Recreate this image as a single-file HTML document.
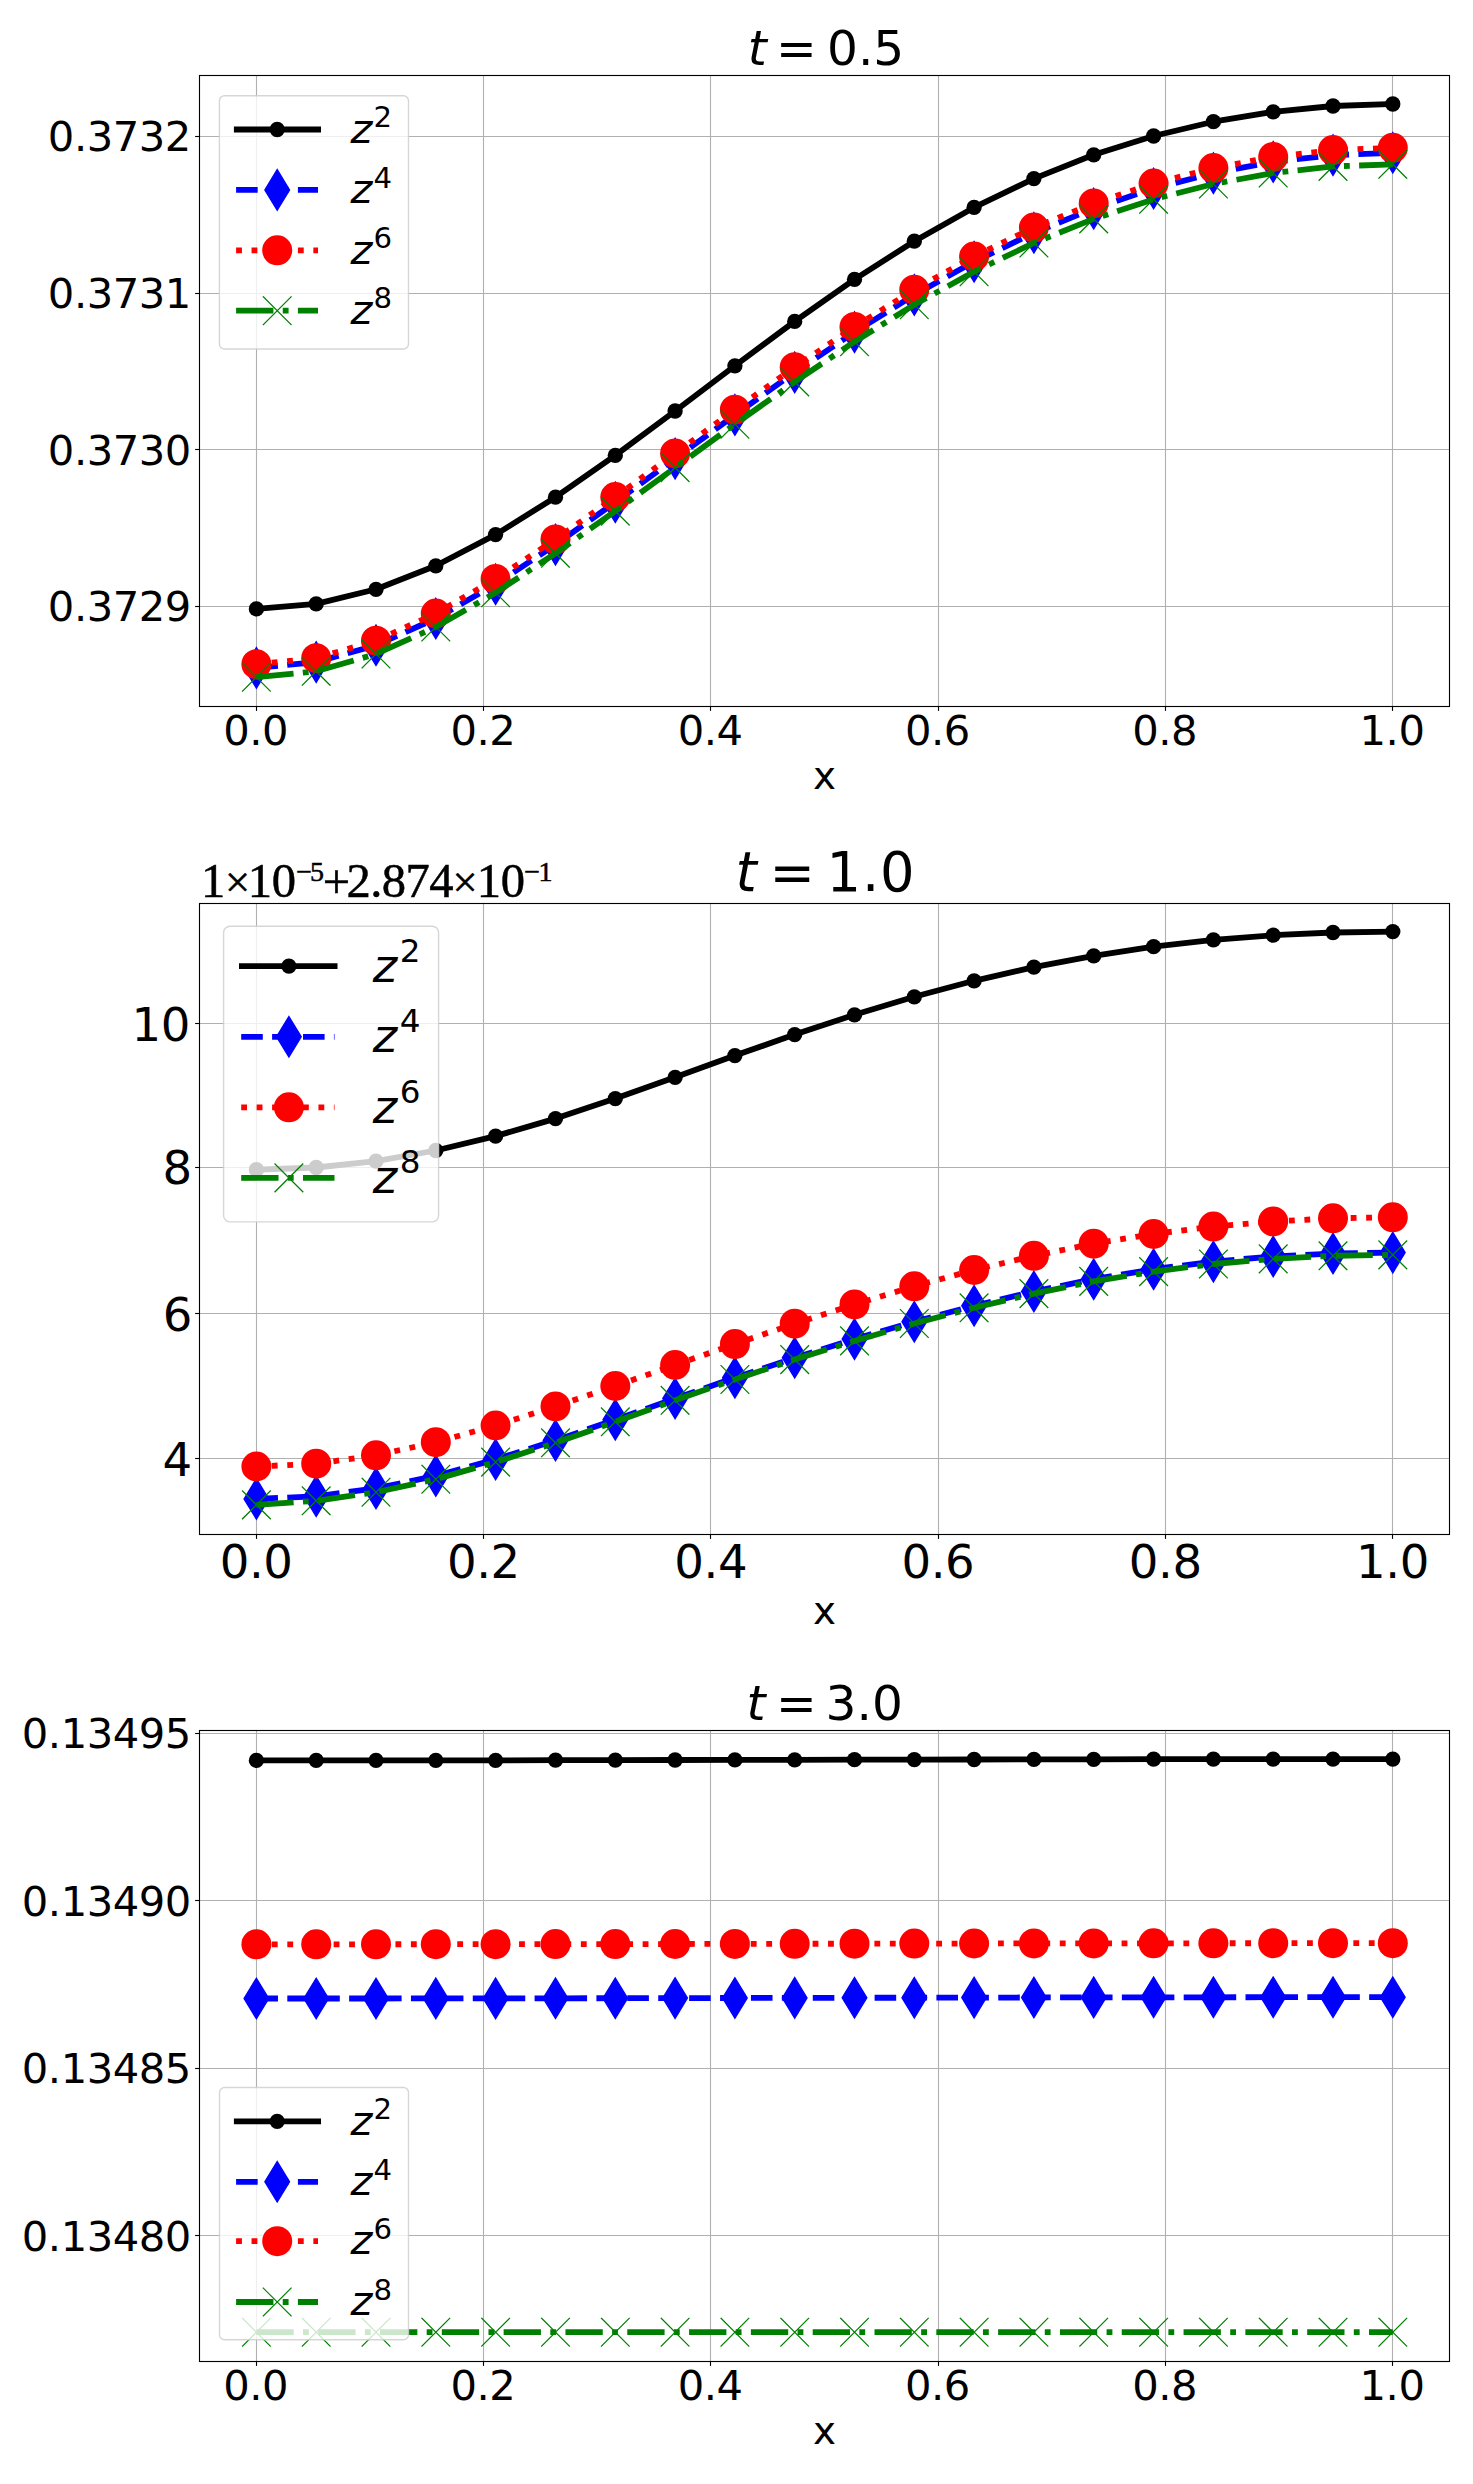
<!DOCTYPE html>
<html><head><meta charset="utf-8"><title>plots</title>
<style>html,body{margin:0;padding:0;background:#fff}svg{display:block}text{white-space:pre}</style>
</head><body>
<svg width="1473" height="2484" viewBox="0 0 1473 2484">
<g stroke="#b0b0b0" stroke-width="1.11">
<line x1="256.5" y1="75.5" x2="256.5" y2="706.5"/>
<line x1="483.5" y1="75.5" x2="483.5" y2="706.5"/>
<line x1="710.5" y1="75.5" x2="710.5" y2="706.5"/>
<line x1="938.5" y1="75.5" x2="938.5" y2="706.5"/>
<line x1="1165.5" y1="75.5" x2="1165.5" y2="706.5"/>
<line x1="1392.5" y1="75.5" x2="1392.5" y2="706.5"/>
<line x1="199.5" y1="136.5" x2="1449.5" y2="136.5"/>
<line x1="199.5" y1="293.5" x2="1449.5" y2="293.5"/>
<line x1="199.5" y1="449.5" x2="1449.5" y2="449.5"/>
<line x1="199.5" y1="606.5" x2="1449.5" y2="606.5"/>
</g>
<clipPath id="c1"><rect x="199.5" y="75.5" width="1250.0" height="631.0"/></clipPath>
<g clip-path="url(#c1)">
<polyline points="256.4,608.9 316.2,603.9 376.0,589.3 435.8,565.8 495.6,534.6 555.5,497.2 615.3,455.4 675.1,411.0 734.9,365.8 794.7,321.4 854.5,279.4 914.3,241.2 974.1,207.4 1033.9,178.6 1093.7,154.8 1153.6,136.0 1213.4,121.7 1273.2,111.8 1333.0,106.0 1392.8,104.0" fill="none" stroke="#000" stroke-width="5.8" stroke-linejoin="round" stroke-linecap="square"/>
<circle cx="256.4" cy="608.9" r="7.65" fill="#000"/>
<circle cx="316.2" cy="603.9" r="7.65" fill="#000"/>
<circle cx="376.0" cy="589.3" r="7.65" fill="#000"/>
<circle cx="435.8" cy="565.8" r="7.65" fill="#000"/>
<circle cx="495.6" cy="534.6" r="7.65" fill="#000"/>
<circle cx="555.5" cy="497.2" r="7.65" fill="#000"/>
<circle cx="615.3" cy="455.4" r="7.65" fill="#000"/>
<circle cx="675.1" cy="411.0" r="7.65" fill="#000"/>
<circle cx="734.9" cy="365.8" r="7.65" fill="#000"/>
<circle cx="794.7" cy="321.4" r="7.65" fill="#000"/>
<circle cx="854.5" cy="279.4" r="7.65" fill="#000"/>
<circle cx="914.3" cy="241.2" r="7.65" fill="#000"/>
<circle cx="974.1" cy="207.4" r="7.65" fill="#000"/>
<circle cx="1033.9" cy="178.6" r="7.65" fill="#000"/>
<circle cx="1093.7" cy="154.8" r="7.65" fill="#000"/>
<circle cx="1153.6" cy="136.0" r="7.65" fill="#000"/>
<circle cx="1213.4" cy="121.7" r="7.65" fill="#000"/>
<circle cx="1273.2" cy="111.8" r="7.65" fill="#000"/>
<circle cx="1333.0" cy="106.0" r="7.65" fill="#000"/>
<circle cx="1392.8" cy="104.0" r="7.65" fill="#000"/>
<polyline points="256.4,667.9 316.2,662.1 376.0,645.3 435.8,618.5 495.6,584.2 555.5,544.6 615.3,502.2 675.1,458.6 734.9,414.9 794.7,372.4 854.5,332.1 914.3,294.9 974.1,261.7 1033.9,232.8 1093.7,208.6 1153.6,188.5 1213.4,173.1 1273.2,161.9 1333.0,155.1 1392.8,152.8" fill="none" stroke="#0000ff" stroke-width="5.8" stroke-dasharray="21.58 9.33"/>
<path d="M256.4 647.7L268.7 667.9L256.4 688.1L244.1 667.9Z" fill="#0000ff" stroke="#0000ff" stroke-width="1.4" stroke-linejoin="miter"/>
<path d="M316.2 641.9L328.5 662.1L316.2 682.3L303.9 662.1Z" fill="#0000ff" stroke="#0000ff" stroke-width="1.4" stroke-linejoin="miter"/>
<path d="M376.0 625.1L388.3 645.3L376.0 665.5L363.7 645.3Z" fill="#0000ff" stroke="#0000ff" stroke-width="1.4" stroke-linejoin="miter"/>
<path d="M435.8 598.3L448.1 618.5L435.8 638.7L423.5 618.5Z" fill="#0000ff" stroke="#0000ff" stroke-width="1.4" stroke-linejoin="miter"/>
<path d="M495.6 564.0L507.9 584.2L495.6 604.4L483.3 584.2Z" fill="#0000ff" stroke="#0000ff" stroke-width="1.4" stroke-linejoin="miter"/>
<path d="M555.5 524.4L567.8 544.6L555.5 564.8L543.2 544.6Z" fill="#0000ff" stroke="#0000ff" stroke-width="1.4" stroke-linejoin="miter"/>
<path d="M615.3 482.0L627.6 502.2L615.3 522.4L603.0 502.2Z" fill="#0000ff" stroke="#0000ff" stroke-width="1.4" stroke-linejoin="miter"/>
<path d="M675.1 438.4L687.4 458.6L675.1 478.8L662.8 458.6Z" fill="#0000ff" stroke="#0000ff" stroke-width="1.4" stroke-linejoin="miter"/>
<path d="M734.9 394.7L747.2 414.9L734.9 435.1L722.6 414.9Z" fill="#0000ff" stroke="#0000ff" stroke-width="1.4" stroke-linejoin="miter"/>
<path d="M794.7 352.2L807.0 372.4L794.7 392.6L782.4 372.4Z" fill="#0000ff" stroke="#0000ff" stroke-width="1.4" stroke-linejoin="miter"/>
<path d="M854.5 311.9L866.8 332.1L854.5 352.3L842.2 332.1Z" fill="#0000ff" stroke="#0000ff" stroke-width="1.4" stroke-linejoin="miter"/>
<path d="M914.3 274.7L926.6 294.9L914.3 315.1L902.0 294.9Z" fill="#0000ff" stroke="#0000ff" stroke-width="1.4" stroke-linejoin="miter"/>
<path d="M974.1 241.5L986.4 261.7L974.1 281.9L961.8 261.7Z" fill="#0000ff" stroke="#0000ff" stroke-width="1.4" stroke-linejoin="miter"/>
<path d="M1033.9 212.6L1046.2 232.8L1033.9 253.0L1021.6 232.8Z" fill="#0000ff" stroke="#0000ff" stroke-width="1.4" stroke-linejoin="miter"/>
<path d="M1093.7 188.4L1106.0 208.6L1093.7 228.8L1081.4 208.6Z" fill="#0000ff" stroke="#0000ff" stroke-width="1.4" stroke-linejoin="miter"/>
<path d="M1153.6 168.3L1165.9 188.5L1153.6 208.7L1141.3 188.5Z" fill="#0000ff" stroke="#0000ff" stroke-width="1.4" stroke-linejoin="miter"/>
<path d="M1213.4 152.9L1225.7 173.1L1213.4 193.3L1201.1 173.1Z" fill="#0000ff" stroke="#0000ff" stroke-width="1.4" stroke-linejoin="miter"/>
<path d="M1273.2 141.7L1285.5 161.9L1273.2 182.1L1260.9 161.9Z" fill="#0000ff" stroke="#0000ff" stroke-width="1.4" stroke-linejoin="miter"/>
<path d="M1333.0 134.9L1345.3 155.1L1333.0 175.3L1320.7 155.1Z" fill="#0000ff" stroke="#0000ff" stroke-width="1.4" stroke-linejoin="miter"/>
<path d="M1392.8 132.6L1405.1 152.8L1392.8 173.0L1380.5 152.8Z" fill="#0000ff" stroke="#0000ff" stroke-width="1.4" stroke-linejoin="miter"/>
<polyline points="256.4,664.2 316.2,658.2 376.0,640.7 435.8,613.5 495.6,578.9 555.5,539.4 615.3,497.0 675.1,453.4 734.9,409.7 794.7,367.2 854.5,326.9 914.3,289.7 974.1,256.5 1033.9,227.6 1093.7,203.4 1153.6,183.5 1213.4,168.1 1273.2,156.9 1333.0,150.1 1392.8,147.8" fill="none" stroke="#ff0000" stroke-width="5.8" stroke-dasharray="5.83 9.62"/>
<circle cx="256.4" cy="664.2" r="15.0" fill="#ff0000"/>
<circle cx="316.2" cy="658.2" r="15.0" fill="#ff0000"/>
<circle cx="376.0" cy="640.7" r="15.0" fill="#ff0000"/>
<circle cx="435.8" cy="613.5" r="15.0" fill="#ff0000"/>
<circle cx="495.6" cy="578.9" r="15.0" fill="#ff0000"/>
<circle cx="555.5" cy="539.4" r="15.0" fill="#ff0000"/>
<circle cx="615.3" cy="497.0" r="15.0" fill="#ff0000"/>
<circle cx="675.1" cy="453.4" r="15.0" fill="#ff0000"/>
<circle cx="734.9" cy="409.7" r="15.0" fill="#ff0000"/>
<circle cx="794.7" cy="367.2" r="15.0" fill="#ff0000"/>
<circle cx="854.5" cy="326.9" r="15.0" fill="#ff0000"/>
<circle cx="914.3" cy="289.7" r="15.0" fill="#ff0000"/>
<circle cx="974.1" cy="256.5" r="15.0" fill="#ff0000"/>
<circle cx="1033.9" cy="227.6" r="15.0" fill="#ff0000"/>
<circle cx="1093.7" cy="203.4" r="15.0" fill="#ff0000"/>
<circle cx="1153.6" cy="183.5" r="15.0" fill="#ff0000"/>
<circle cx="1213.4" cy="168.1" r="15.0" fill="#ff0000"/>
<circle cx="1273.2" cy="156.9" r="15.0" fill="#ff0000"/>
<circle cx="1333.0" cy="150.1" r="15.0" fill="#ff0000"/>
<circle cx="1392.8" cy="147.8" r="15.0" fill="#ff0000"/>
<polyline points="256.4,677.2 316.2,671.3 376.0,654.0 435.8,627.0 495.6,592.7 555.5,553.3 615.3,511.1 675.1,467.6 734.9,424.2 794.7,381.9 854.5,341.7 914.3,304.7 974.1,271.7 1033.9,243.0 1093.7,218.9 1153.6,199.3 1213.4,184.0 1273.2,173.0 1333.0,166.4 1392.8,164.3" fill="none" stroke="#008000" stroke-width="5.8" stroke-dasharray="37.32 9.33 5.83 9.33"/>
<path d="M242.5 663.3L270.3 691.1M242.5 691.1L270.3 663.3" stroke="#008000" stroke-width="1.25" fill="none" stroke-linecap="square"/>
<path d="M302.3 657.4L330.1 685.2M302.3 685.2L330.1 657.4" stroke="#008000" stroke-width="1.25" fill="none" stroke-linecap="square"/>
<path d="M362.1 640.1L389.9 667.9M362.1 667.9L389.9 640.1" stroke="#008000" stroke-width="1.25" fill="none" stroke-linecap="square"/>
<path d="M421.9 613.1L449.7 640.9M421.9 640.9L449.7 613.1" stroke="#008000" stroke-width="1.25" fill="none" stroke-linecap="square"/>
<path d="M481.7 578.8L509.5 606.6M481.7 606.6L509.5 578.8" stroke="#008000" stroke-width="1.25" fill="none" stroke-linecap="square"/>
<path d="M541.6 539.4L569.4 567.2M541.6 567.2L569.4 539.4" stroke="#008000" stroke-width="1.25" fill="none" stroke-linecap="square"/>
<path d="M601.4 497.2L629.2 525.0M601.4 525.0L629.2 497.2" stroke="#008000" stroke-width="1.25" fill="none" stroke-linecap="square"/>
<path d="M661.2 453.7L689.0 481.5M661.2 481.5L689.0 453.7" stroke="#008000" stroke-width="1.25" fill="none" stroke-linecap="square"/>
<path d="M721.0 410.3L748.8 438.1M721.0 438.1L748.8 410.3" stroke="#008000" stroke-width="1.25" fill="none" stroke-linecap="square"/>
<path d="M780.8 368.0L808.6 395.8M780.8 395.8L808.6 368.0" stroke="#008000" stroke-width="1.25" fill="none" stroke-linecap="square"/>
<path d="M840.6 327.8L868.4 355.6M840.6 355.6L868.4 327.8" stroke="#008000" stroke-width="1.25" fill="none" stroke-linecap="square"/>
<path d="M900.4 290.8L928.2 318.6M900.4 318.6L928.2 290.8" stroke="#008000" stroke-width="1.25" fill="none" stroke-linecap="square"/>
<path d="M960.2 257.8L988.0 285.6M960.2 285.6L988.0 257.8" stroke="#008000" stroke-width="1.25" fill="none" stroke-linecap="square"/>
<path d="M1020.0 229.1L1047.8 256.9M1020.0 256.9L1047.8 229.1" stroke="#008000" stroke-width="1.25" fill="none" stroke-linecap="square"/>
<path d="M1079.8 205.0L1107.6 232.8M1079.8 232.8L1107.6 205.0" stroke="#008000" stroke-width="1.25" fill="none" stroke-linecap="square"/>
<path d="M1139.7 185.4L1167.5 213.2M1139.7 213.2L1167.5 185.4" stroke="#008000" stroke-width="1.25" fill="none" stroke-linecap="square"/>
<path d="M1199.5 170.1L1227.3 197.9M1199.5 197.9L1227.3 170.1" stroke="#008000" stroke-width="1.25" fill="none" stroke-linecap="square"/>
<path d="M1259.3 159.1L1287.1 186.9M1259.3 186.9L1287.1 159.1" stroke="#008000" stroke-width="1.25" fill="none" stroke-linecap="square"/>
<path d="M1319.1 152.5L1346.9 180.3M1319.1 180.3L1346.9 152.5" stroke="#008000" stroke-width="1.25" fill="none" stroke-linecap="square"/>
<path d="M1378.9 150.4L1406.7 178.2M1378.9 178.2L1406.7 150.4" stroke="#008000" stroke-width="1.25" fill="none" stroke-linecap="square"/>
</g>
<rect x="199.5" y="75.5" width="1250.0" height="631.0" fill="none" stroke="#000" stroke-width="1.11"/>
<g stroke="#000" stroke-width="1.11">
<line x1="256.5" y1="706.5" x2="256.5" y2="710.9"/>
<line x1="483.5" y1="706.5" x2="483.5" y2="710.9"/>
<line x1="710.5" y1="706.5" x2="710.5" y2="710.9"/>
<line x1="938.5" y1="706.5" x2="938.5" y2="710.9"/>
<line x1="1165.5" y1="706.5" x2="1165.5" y2="710.9"/>
<line x1="1392.5" y1="706.5" x2="1392.5" y2="710.9"/>
<line x1="195.1" y1="136.5" x2="199.5" y2="136.5"/>
<line x1="195.1" y1="293.5" x2="199.5" y2="293.5"/>
<line x1="195.1" y1="449.5" x2="199.5" y2="449.5"/>
<line x1="195.1" y1="606.5" x2="199.5" y2="606.5"/>
</g>
<g style="font-family:'DejaVu Sans','Liberation Sans',sans-serif;font-size:41.67px;letter-spacing:-0.45px" fill="#000">
<text x="255.6" y="745.2" text-anchor="middle">0.0</text>
<text x="482.9" y="745.2" text-anchor="middle">0.2</text>
<text x="710.2" y="745.2" text-anchor="middle">0.4</text>
<text x="937.4" y="745.2" text-anchor="middle">0.6</text>
<text x="1164.7" y="745.2" text-anchor="middle">0.8</text>
<text x="1392.0" y="745.2" text-anchor="middle">1.0</text>
<text x="190.9" y="151.4" text-anchor="end">0.3732</text>
<text x="190.9" y="308.2" text-anchor="end">0.3731</text>
<text x="190.9" y="464.8" text-anchor="end">0.3730</text>
<text x="190.9" y="621.2" text-anchor="end">0.3729</text>
</g>
<text x="824.6" y="788.8" text-anchor="middle" style="font-family:'DejaVu Sans','Liberation Sans',sans-serif;font-size:38.9px">x</text>
<g style="font-family:'DejaVu Sans','Liberation Sans',sans-serif;font-size:48.6px">
<text x="747.7" y="64.8" font-style="italic">t</text>
<text x="776.1" y="64.8">=</text>
<text x="827.0" y="64.8" style="letter-spacing:0px">0.5</text>
</g>
<rect x="219.4" y="95.7" width="189.1" height="253.3" rx="5.0" fill="#fff" fill-opacity="0.8" stroke="#ccc" stroke-opacity="0.8" stroke-width="1.39"/>
<line x1="233.9" y1="129.5" x2="321.0" y2="129.5" stroke="#000" stroke-width="5.8"/>
<circle cx="277.2" cy="129.5" r="7.65" fill="#000"/>
<text x="350.5" y="142.7" style="font-family:'DejaVu Sans','Liberation Sans',sans-serif;font-size:41.67px"><tspan font-style="italic">z</tspan><tspan dx="1.2" dy="-15.5" font-size="29.17px">2</tspan></text>
<line x1="236.1" y1="189.9" x2="318.0" y2="189.9" stroke="#0000ff" stroke-width="5.8" stroke-dasharray="21.58 9.33"/>
<path d="M277.2 169.7L289.5 189.9L277.2 210.1L264.9 189.9Z" fill="#0000ff" stroke="#0000ff" stroke-width="1.4" stroke-linejoin="miter"/>
<text x="350.5" y="203.1" style="font-family:'DejaVu Sans','Liberation Sans',sans-serif;font-size:41.67px"><tspan font-style="italic">z</tspan><tspan dx="1.2" dy="-15.5" font-size="29.17px">4</tspan></text>
<line x1="236.1" y1="250.3" x2="318.0" y2="250.3" stroke="#ff0000" stroke-width="5.8" stroke-dasharray="5.83 9.62"/>
<circle cx="277.2" cy="250.3" r="15.0" fill="#ff0000"/>
<text x="350.5" y="263.5" style="font-family:'DejaVu Sans','Liberation Sans',sans-serif;font-size:41.67px"><tspan font-style="italic">z</tspan><tspan dx="1.2" dy="-15.5" font-size="29.17px">6</tspan></text>
<line x1="236.1" y1="310.7" x2="318.0" y2="310.7" stroke="#008000" stroke-width="5.8" stroke-dasharray="37.32 9.33 5.83 9.33"/>
<path d="M263.3 296.8L291.1 324.6M263.3 324.6L291.1 296.8" stroke="#008000" stroke-width="1.25" fill="none" stroke-linecap="square"/>
<text x="350.5" y="323.9" style="font-family:'DejaVu Sans','Liberation Sans',sans-serif;font-size:41.67px"><tspan font-style="italic">z</tspan><tspan dx="1.2" dy="-15.5" font-size="29.17px">8</tspan></text>
<g stroke="#b0b0b0" stroke-width="1.11">
<line x1="256.5" y1="903.5" x2="256.5" y2="1534.5"/>
<line x1="483.5" y1="903.5" x2="483.5" y2="1534.5"/>
<line x1="710.5" y1="903.5" x2="710.5" y2="1534.5"/>
<line x1="938.5" y1="903.5" x2="938.5" y2="1534.5"/>
<line x1="1165.5" y1="903.5" x2="1165.5" y2="1534.5"/>
<line x1="1392.5" y1="903.5" x2="1392.5" y2="1534.5"/>
<line x1="199.5" y1="1023.5" x2="1449.5" y2="1023.5"/>
<line x1="199.5" y1="1167.5" x2="1449.5" y2="1167.5"/>
<line x1="199.5" y1="1313.5" x2="1449.5" y2="1313.5"/>
<line x1="199.5" y1="1458.5" x2="1449.5" y2="1458.5"/>
</g>
<clipPath id="c2"><rect x="199.5" y="903.5" width="1250.0" height="631.0"/></clipPath>
<g clip-path="url(#c2)">
<polyline points="256.4,1169.7 316.2,1167.5 376.0,1161.1 435.8,1150.5 495.6,1136.1 555.5,1118.6 615.3,1098.6 675.1,1077.3 734.9,1055.6 794.7,1034.6 854.5,1014.8 914.3,996.8 974.1,980.8 1033.9,967.2 1093.7,955.8 1153.6,946.7 1213.4,939.9 1273.2,935.2 1333.0,932.5 1392.8,931.6" fill="none" stroke="#000" stroke-width="5.8" stroke-linejoin="round" stroke-linecap="square"/>
<circle cx="256.4" cy="1169.7" r="7.65" fill="#000"/>
<circle cx="316.2" cy="1167.5" r="7.65" fill="#000"/>
<circle cx="376.0" cy="1161.1" r="7.65" fill="#000"/>
<circle cx="435.8" cy="1150.5" r="7.65" fill="#000"/>
<circle cx="495.6" cy="1136.1" r="7.65" fill="#000"/>
<circle cx="555.5" cy="1118.6" r="7.65" fill="#000"/>
<circle cx="615.3" cy="1098.6" r="7.65" fill="#000"/>
<circle cx="675.1" cy="1077.3" r="7.65" fill="#000"/>
<circle cx="734.9" cy="1055.6" r="7.65" fill="#000"/>
<circle cx="794.7" cy="1034.6" r="7.65" fill="#000"/>
<circle cx="854.5" cy="1014.8" r="7.65" fill="#000"/>
<circle cx="914.3" cy="996.8" r="7.65" fill="#000"/>
<circle cx="974.1" cy="980.8" r="7.65" fill="#000"/>
<circle cx="1033.9" cy="967.2" r="7.65" fill="#000"/>
<circle cx="1093.7" cy="955.8" r="7.65" fill="#000"/>
<circle cx="1153.6" cy="946.7" r="7.65" fill="#000"/>
<circle cx="1213.4" cy="939.9" r="7.65" fill="#000"/>
<circle cx="1273.2" cy="935.2" r="7.65" fill="#000"/>
<circle cx="1333.0" cy="932.5" r="7.65" fill="#000"/>
<circle cx="1392.8" cy="931.6" r="7.65" fill="#000"/>
<polyline points="256.4,1498.9 316.2,1496.3 376.0,1488.4 435.8,1475.9 495.6,1459.5 555.5,1440.4 615.3,1419.7 675.1,1398.5 734.9,1377.7 794.7,1357.8 854.5,1339.1 914.3,1321.7 974.1,1305.8 1033.9,1291.5 1093.7,1279.2 1153.6,1269.2 1213.4,1261.6 1273.2,1256.5 1333.0,1253.5 1392.8,1252.6" fill="none" stroke="#0000ff" stroke-width="5.8" stroke-dasharray="21.58 9.33"/>
<path d="M256.4 1478.7L268.7 1498.9L256.4 1519.1L244.1 1498.9Z" fill="#0000ff" stroke="#0000ff" stroke-width="1.4" stroke-linejoin="miter"/>
<path d="M316.2 1476.1L328.5 1496.3L316.2 1516.5L303.9 1496.3Z" fill="#0000ff" stroke="#0000ff" stroke-width="1.4" stroke-linejoin="miter"/>
<path d="M376.0 1468.2L388.3 1488.4L376.0 1508.6L363.7 1488.4Z" fill="#0000ff" stroke="#0000ff" stroke-width="1.4" stroke-linejoin="miter"/>
<path d="M435.8 1455.7L448.1 1475.9L435.8 1496.1L423.5 1475.9Z" fill="#0000ff" stroke="#0000ff" stroke-width="1.4" stroke-linejoin="miter"/>
<path d="M495.6 1439.3L507.9 1459.5L495.6 1479.7L483.3 1459.5Z" fill="#0000ff" stroke="#0000ff" stroke-width="1.4" stroke-linejoin="miter"/>
<path d="M555.5 1420.2L567.8 1440.4L555.5 1460.6L543.2 1440.4Z" fill="#0000ff" stroke="#0000ff" stroke-width="1.4" stroke-linejoin="miter"/>
<path d="M615.3 1399.5L627.6 1419.7L615.3 1439.9L603.0 1419.7Z" fill="#0000ff" stroke="#0000ff" stroke-width="1.4" stroke-linejoin="miter"/>
<path d="M675.1 1378.3L687.4 1398.5L675.1 1418.7L662.8 1398.5Z" fill="#0000ff" stroke="#0000ff" stroke-width="1.4" stroke-linejoin="miter"/>
<path d="M734.9 1357.5L747.2 1377.7L734.9 1397.9L722.6 1377.7Z" fill="#0000ff" stroke="#0000ff" stroke-width="1.4" stroke-linejoin="miter"/>
<path d="M794.7 1337.6L807.0 1357.8L794.7 1378.0L782.4 1357.8Z" fill="#0000ff" stroke="#0000ff" stroke-width="1.4" stroke-linejoin="miter"/>
<path d="M854.5 1318.9L866.8 1339.1L854.5 1359.3L842.2 1339.1Z" fill="#0000ff" stroke="#0000ff" stroke-width="1.4" stroke-linejoin="miter"/>
<path d="M914.3 1301.5L926.6 1321.7L914.3 1341.9L902.0 1321.7Z" fill="#0000ff" stroke="#0000ff" stroke-width="1.4" stroke-linejoin="miter"/>
<path d="M974.1 1285.6L986.4 1305.8L974.1 1326.0L961.8 1305.8Z" fill="#0000ff" stroke="#0000ff" stroke-width="1.4" stroke-linejoin="miter"/>
<path d="M1033.9 1271.3L1046.2 1291.5L1033.9 1311.7L1021.6 1291.5Z" fill="#0000ff" stroke="#0000ff" stroke-width="1.4" stroke-linejoin="miter"/>
<path d="M1093.7 1259.0L1106.0 1279.2L1093.7 1299.4L1081.4 1279.2Z" fill="#0000ff" stroke="#0000ff" stroke-width="1.4" stroke-linejoin="miter"/>
<path d="M1153.6 1249.0L1165.9 1269.2L1153.6 1289.4L1141.3 1269.2Z" fill="#0000ff" stroke="#0000ff" stroke-width="1.4" stroke-linejoin="miter"/>
<path d="M1213.4 1241.4L1225.7 1261.6L1213.4 1281.8L1201.1 1261.6Z" fill="#0000ff" stroke="#0000ff" stroke-width="1.4" stroke-linejoin="miter"/>
<path d="M1273.2 1236.3L1285.5 1256.5L1273.2 1276.7L1260.9 1256.5Z" fill="#0000ff" stroke="#0000ff" stroke-width="1.4" stroke-linejoin="miter"/>
<path d="M1333.0 1233.3L1345.3 1253.5L1333.0 1273.7L1320.7 1253.5Z" fill="#0000ff" stroke="#0000ff" stroke-width="1.4" stroke-linejoin="miter"/>
<path d="M1392.8 1232.4L1405.1 1252.6L1392.8 1272.8L1380.5 1252.6Z" fill="#0000ff" stroke="#0000ff" stroke-width="1.4" stroke-linejoin="miter"/>
<polyline points="256.4,1466.5 316.2,1463.7 376.0,1455.3 435.8,1442.2 495.6,1425.5 555.5,1406.4 615.3,1386.0 675.1,1365.0 734.9,1344.1 794.7,1323.7 854.5,1304.4 914.3,1286.3 974.1,1270.0 1033.9,1255.8 1093.7,1243.7 1153.6,1234.0 1213.4,1226.6 1273.2,1221.4 1333.0,1218.3 1392.8,1217.3" fill="none" stroke="#ff0000" stroke-width="5.8" stroke-dasharray="5.83 9.62"/>
<circle cx="256.4" cy="1466.5" r="15.0" fill="#ff0000"/>
<circle cx="316.2" cy="1463.7" r="15.0" fill="#ff0000"/>
<circle cx="376.0" cy="1455.3" r="15.0" fill="#ff0000"/>
<circle cx="435.8" cy="1442.2" r="15.0" fill="#ff0000"/>
<circle cx="495.6" cy="1425.5" r="15.0" fill="#ff0000"/>
<circle cx="555.5" cy="1406.4" r="15.0" fill="#ff0000"/>
<circle cx="615.3" cy="1386.0" r="15.0" fill="#ff0000"/>
<circle cx="675.1" cy="1365.0" r="15.0" fill="#ff0000"/>
<circle cx="734.9" cy="1344.1" r="15.0" fill="#ff0000"/>
<circle cx="794.7" cy="1323.7" r="15.0" fill="#ff0000"/>
<circle cx="854.5" cy="1304.4" r="15.0" fill="#ff0000"/>
<circle cx="914.3" cy="1286.3" r="15.0" fill="#ff0000"/>
<circle cx="974.1" cy="1270.0" r="15.0" fill="#ff0000"/>
<circle cx="1033.9" cy="1255.8" r="15.0" fill="#ff0000"/>
<circle cx="1093.7" cy="1243.7" r="15.0" fill="#ff0000"/>
<circle cx="1153.6" cy="1234.0" r="15.0" fill="#ff0000"/>
<circle cx="1213.4" cy="1226.6" r="15.0" fill="#ff0000"/>
<circle cx="1273.2" cy="1221.4" r="15.0" fill="#ff0000"/>
<circle cx="1333.0" cy="1218.3" r="15.0" fill="#ff0000"/>
<circle cx="1392.8" cy="1217.3" r="15.0" fill="#ff0000"/>
<polyline points="256.4,1504.9 316.2,1500.8 376.0,1492.2 435.8,1479.2 495.6,1462.1 555.5,1442.8 615.3,1421.8 675.1,1400.3 734.9,1379.5 794.7,1359.6 854.5,1340.9 914.3,1323.5 974.1,1307.8 1033.9,1293.6 1093.7,1281.4 1153.6,1271.6 1213.4,1264.0 1273.2,1258.9 1333.0,1255.8 1392.8,1254.9" fill="none" stroke="#008000" stroke-width="5.8" stroke-dasharray="37.32 9.33 5.83 9.33"/>
<path d="M242.5 1491.0L270.3 1518.8M242.5 1518.8L270.3 1491.0" stroke="#008000" stroke-width="1.25" fill="none" stroke-linecap="square"/>
<path d="M302.3 1486.9L330.1 1514.7M302.3 1514.7L330.1 1486.9" stroke="#008000" stroke-width="1.25" fill="none" stroke-linecap="square"/>
<path d="M362.1 1478.3L389.9 1506.1M362.1 1506.1L389.9 1478.3" stroke="#008000" stroke-width="1.25" fill="none" stroke-linecap="square"/>
<path d="M421.9 1465.3L449.7 1493.1M421.9 1493.1L449.7 1465.3" stroke="#008000" stroke-width="1.25" fill="none" stroke-linecap="square"/>
<path d="M481.7 1448.2L509.5 1476.0M481.7 1476.0L509.5 1448.2" stroke="#008000" stroke-width="1.25" fill="none" stroke-linecap="square"/>
<path d="M541.6 1428.9L569.4 1456.7M541.6 1456.7L569.4 1428.9" stroke="#008000" stroke-width="1.25" fill="none" stroke-linecap="square"/>
<path d="M601.4 1407.9L629.2 1435.7M601.4 1435.7L629.2 1407.9" stroke="#008000" stroke-width="1.25" fill="none" stroke-linecap="square"/>
<path d="M661.2 1386.4L689.0 1414.2M661.2 1414.2L689.0 1386.4" stroke="#008000" stroke-width="1.25" fill="none" stroke-linecap="square"/>
<path d="M721.0 1365.6L748.8 1393.4M721.0 1393.4L748.8 1365.6" stroke="#008000" stroke-width="1.25" fill="none" stroke-linecap="square"/>
<path d="M780.8 1345.7L808.6 1373.5M780.8 1373.5L808.6 1345.7" stroke="#008000" stroke-width="1.25" fill="none" stroke-linecap="square"/>
<path d="M840.6 1327.0L868.4 1354.8M840.6 1354.8L868.4 1327.0" stroke="#008000" stroke-width="1.25" fill="none" stroke-linecap="square"/>
<path d="M900.4 1309.6L928.2 1337.4M900.4 1337.4L928.2 1309.6" stroke="#008000" stroke-width="1.25" fill="none" stroke-linecap="square"/>
<path d="M960.2 1293.9L988.0 1321.7M960.2 1321.7L988.0 1293.9" stroke="#008000" stroke-width="1.25" fill="none" stroke-linecap="square"/>
<path d="M1020.0 1279.7L1047.8 1307.5M1020.0 1307.5L1047.8 1279.7" stroke="#008000" stroke-width="1.25" fill="none" stroke-linecap="square"/>
<path d="M1079.8 1267.5L1107.6 1295.3M1079.8 1295.3L1107.6 1267.5" stroke="#008000" stroke-width="1.25" fill="none" stroke-linecap="square"/>
<path d="M1139.7 1257.7L1167.5 1285.5M1139.7 1285.5L1167.5 1257.7" stroke="#008000" stroke-width="1.25" fill="none" stroke-linecap="square"/>
<path d="M1199.5 1250.1L1227.3 1277.9M1199.5 1277.9L1227.3 1250.1" stroke="#008000" stroke-width="1.25" fill="none" stroke-linecap="square"/>
<path d="M1259.3 1245.0L1287.1 1272.8M1259.3 1272.8L1287.1 1245.0" stroke="#008000" stroke-width="1.25" fill="none" stroke-linecap="square"/>
<path d="M1319.1 1241.9L1346.9 1269.7M1319.1 1269.7L1346.9 1241.9" stroke="#008000" stroke-width="1.25" fill="none" stroke-linecap="square"/>
<path d="M1378.9 1241.0L1406.7 1268.8M1378.9 1268.8L1406.7 1241.0" stroke="#008000" stroke-width="1.25" fill="none" stroke-linecap="square"/>
</g>
<rect x="199.5" y="903.5" width="1250.0" height="631.0" fill="none" stroke="#000" stroke-width="1.11"/>
<g stroke="#000" stroke-width="1.11">
<line x1="256.5" y1="1534.5" x2="256.5" y2="1538.9"/>
<line x1="483.5" y1="1534.5" x2="483.5" y2="1538.9"/>
<line x1="710.5" y1="1534.5" x2="710.5" y2="1538.9"/>
<line x1="938.5" y1="1534.5" x2="938.5" y2="1538.9"/>
<line x1="1165.5" y1="1534.5" x2="1165.5" y2="1538.9"/>
<line x1="1392.5" y1="1534.5" x2="1392.5" y2="1538.9"/>
<line x1="195.1" y1="1023.5" x2="199.5" y2="1023.5"/>
<line x1="195.1" y1="1167.5" x2="199.5" y2="1167.5"/>
<line x1="195.1" y1="1313.5" x2="199.5" y2="1313.5"/>
<line x1="195.1" y1="1458.5" x2="199.5" y2="1458.5"/>
</g>
<g style="font-family:'DejaVu Sans','Liberation Sans',sans-serif;font-size:46.6px;letter-spacing:-0.4px" fill="#000">
<text x="256.1" y="1578.3" text-anchor="middle">0.0</text>
<text x="483.4" y="1578.3" text-anchor="middle">0.2</text>
<text x="710.7" y="1578.3" text-anchor="middle">0.4</text>
<text x="937.9" y="1578.3" text-anchor="middle">0.6</text>
<text x="1165.2" y="1578.3" text-anchor="middle">0.8</text>
<text x="1392.5" y="1578.3" text-anchor="middle">1.0</text>
<text x="190.1" y="1040.5" text-anchor="end">10</text>
<text x="191.7" y="1184.4" text-anchor="end">8</text>
<text x="191.9" y="1330.5" text-anchor="end">6</text>
<text x="191.7" y="1475.5" text-anchor="end">4</text>
</g>
<text x="824.6" y="1624.2" text-anchor="middle" style="font-family:'DejaVu Sans','Liberation Sans',sans-serif;font-size:38.9px">x</text>
<g style="font-family:'DejaVu Sans','Liberation Sans',sans-serif;font-size:54.3px">
<text x="735.6" y="891.1" font-style="italic">t</text>
<text x="769.5" y="892.3000000000001">=</text>
<text x="826.6" y="891.1" style="letter-spacing:0.8px">1.0</text>
</g>
<rect x="223.6" y="926.2" width="215.0" height="295.7" rx="6.5" fill="#fff" fill-opacity="0.8" stroke="#ccc" stroke-opacity="0.8" stroke-width="1.39"/>
<line x1="239.0" y1="966.1" x2="337.5" y2="966.1" stroke="#000" stroke-width="5.8"/>
<circle cx="288.9" cy="966.1" r="7.65" fill="#000"/>
<text x="372.8" y="981.6" style="font-family:'DejaVu Sans','Liberation Sans',sans-serif;font-size:46.6px"><tspan font-style="italic">z</tspan><tspan dx="2.4" dy="-20.0" font-size="32.62px">2</tspan></text>
<line x1="241.2" y1="1036.8" x2="334.5" y2="1036.8" stroke="#0000ff" stroke-width="5.8" stroke-dasharray="21.58 9.33"/>
<path d="M288.9 1016.6L301.2 1036.8L288.9 1057.0L276.6 1036.8Z" fill="#0000ff" stroke="#0000ff" stroke-width="1.4" stroke-linejoin="miter"/>
<text x="372.8" y="1052.3" style="font-family:'DejaVu Sans','Liberation Sans',sans-serif;font-size:46.6px"><tspan font-style="italic">z</tspan><tspan dx="2.4" dy="-20.0" font-size="32.62px">4</tspan></text>
<line x1="241.2" y1="1107.3" x2="334.5" y2="1107.3" stroke="#ff0000" stroke-width="5.8" stroke-dasharray="5.83 9.62"/>
<circle cx="288.9" cy="1107.3" r="15.0" fill="#ff0000"/>
<text x="372.8" y="1122.8" style="font-family:'DejaVu Sans','Liberation Sans',sans-serif;font-size:46.6px"><tspan font-style="italic">z</tspan><tspan dx="2.4" dy="-20.0" font-size="32.62px">6</tspan></text>
<line x1="241.2" y1="1177.9" x2="334.5" y2="1177.9" stroke="#008000" stroke-width="5.8" stroke-dasharray="37.32 9.33 5.83 9.33"/>
<path d="M275.0 1164.0L302.8 1191.8M275.0 1191.8L302.8 1164.0" stroke="#008000" stroke-width="1.25" fill="none" stroke-linecap="square"/>
<text x="372.8" y="1193.4" style="font-family:'DejaVu Sans','Liberation Sans',sans-serif;font-size:46.6px"><tspan font-style="italic">z</tspan><tspan dx="2.4" dy="-20.0" font-size="32.62px">8</tspan></text>
<g style="font-family:'Liberation Serif','DejaVu Serif',serif;font-size:48.6px;letter-spacing:-0.3px" stroke="#000" stroke-width="0.5">
<text x="201.0" y="896.6">1</text>
<text x="225.1" y="897.0" font-size="44.5px">×</text>
<text x="247.8" y="896.6">10</text>
<text x="296.2" y="880.8" font-size="28px">−</text>
<text x="310.1" y="880.8" font-size="28px">5</text>
<text x="322.8" y="898.3">+</text>
<text x="346.6" y="896.6" style="letter-spacing:-0.6px">2.874</text>
<text x="452.6" y="897.0" font-size="44.5px">×</text>
<text x="476.7" y="896.6">10</text>
<text x="524.2" y="880.8" font-size="28px">−</text>
<text x="538.5" y="880.8" font-size="28px">1</text>
</g>
<g stroke="#b0b0b0" stroke-width="1.11">
<line x1="256.5" y1="1730.5" x2="256.5" y2="2361.5"/>
<line x1="483.5" y1="1730.5" x2="483.5" y2="2361.5"/>
<line x1="710.5" y1="1730.5" x2="710.5" y2="2361.5"/>
<line x1="938.5" y1="1730.5" x2="938.5" y2="2361.5"/>
<line x1="1165.5" y1="1730.5" x2="1165.5" y2="2361.5"/>
<line x1="1392.5" y1="1730.5" x2="1392.5" y2="2361.5"/>
<line x1="199.5" y1="1733.5" x2="1449.5" y2="1733.5"/>
<line x1="199.5" y1="1900.5" x2="1449.5" y2="1900.5"/>
<line x1="199.5" y1="2068.5" x2="1449.5" y2="2068.5"/>
<line x1="199.5" y1="2235.5" x2="1449.5" y2="2235.5"/>
</g>
<clipPath id="c3"><rect x="199.5" y="1730.5" width="1250.0" height="631.0"/></clipPath>
<g clip-path="url(#c3)">
<polyline points="256.4,1760.4 316.2,1760.4 376.0,1760.4 435.8,1760.3 495.6,1760.3 555.5,1760.2 615.3,1760.1 675.1,1760.0 734.9,1759.9 794.7,1759.8 854.5,1759.7 914.3,1759.6 974.1,1759.5 1033.9,1759.4 1093.7,1759.3 1153.6,1759.2 1213.4,1759.2 1273.2,1759.1 1333.0,1759.1 1392.8,1759.1" fill="none" stroke="#000" stroke-width="5.8" stroke-linejoin="round" stroke-linecap="square"/>
<circle cx="256.4" cy="1760.4" r="7.65" fill="#000"/>
<circle cx="316.2" cy="1760.4" r="7.65" fill="#000"/>
<circle cx="376.0" cy="1760.4" r="7.65" fill="#000"/>
<circle cx="435.8" cy="1760.3" r="7.65" fill="#000"/>
<circle cx="495.6" cy="1760.3" r="7.65" fill="#000"/>
<circle cx="555.5" cy="1760.2" r="7.65" fill="#000"/>
<circle cx="615.3" cy="1760.1" r="7.65" fill="#000"/>
<circle cx="675.1" cy="1760.0" r="7.65" fill="#000"/>
<circle cx="734.9" cy="1759.9" r="7.65" fill="#000"/>
<circle cx="794.7" cy="1759.8" r="7.65" fill="#000"/>
<circle cx="854.5" cy="1759.7" r="7.65" fill="#000"/>
<circle cx="914.3" cy="1759.6" r="7.65" fill="#000"/>
<circle cx="974.1" cy="1759.5" r="7.65" fill="#000"/>
<circle cx="1033.9" cy="1759.4" r="7.65" fill="#000"/>
<circle cx="1093.7" cy="1759.3" r="7.65" fill="#000"/>
<circle cx="1153.6" cy="1759.2" r="7.65" fill="#000"/>
<circle cx="1213.4" cy="1759.2" r="7.65" fill="#000"/>
<circle cx="1273.2" cy="1759.1" r="7.65" fill="#000"/>
<circle cx="1333.0" cy="1759.1" r="7.65" fill="#000"/>
<circle cx="1392.8" cy="1759.1" r="7.65" fill="#000"/>
<polyline points="256.4,1998.5 316.2,1998.5 376.0,1998.5 435.8,1998.4 495.6,1998.4 555.5,1998.3 615.3,1998.2 675.1,1998.1 734.9,1998.0 794.7,1997.9 854.5,1997.8 914.3,1997.7 974.1,1997.6 1033.9,1997.5 1093.7,1997.4 1153.6,1997.3 1213.4,1997.3 1273.2,1997.2 1333.0,1997.2 1392.8,1997.2" fill="none" stroke="#0000ff" stroke-width="5.8" stroke-dasharray="21.58 9.33"/>
<path d="M256.4 1978.3L268.7 1998.5L256.4 2018.7L244.1 1998.5Z" fill="#0000ff" stroke="#0000ff" stroke-width="1.4" stroke-linejoin="miter"/>
<path d="M316.2 1978.3L328.5 1998.5L316.2 2018.7L303.9 1998.5Z" fill="#0000ff" stroke="#0000ff" stroke-width="1.4" stroke-linejoin="miter"/>
<path d="M376.0 1978.3L388.3 1998.5L376.0 2018.7L363.7 1998.5Z" fill="#0000ff" stroke="#0000ff" stroke-width="1.4" stroke-linejoin="miter"/>
<path d="M435.8 1978.2L448.1 1998.4L435.8 2018.6L423.5 1998.4Z" fill="#0000ff" stroke="#0000ff" stroke-width="1.4" stroke-linejoin="miter"/>
<path d="M495.6 1978.2L507.9 1998.4L495.6 2018.6L483.3 1998.4Z" fill="#0000ff" stroke="#0000ff" stroke-width="1.4" stroke-linejoin="miter"/>
<path d="M555.5 1978.1L567.8 1998.3L555.5 2018.5L543.2 1998.3Z" fill="#0000ff" stroke="#0000ff" stroke-width="1.4" stroke-linejoin="miter"/>
<path d="M615.3 1978.0L627.6 1998.2L615.3 2018.4L603.0 1998.2Z" fill="#0000ff" stroke="#0000ff" stroke-width="1.4" stroke-linejoin="miter"/>
<path d="M675.1 1977.9L687.4 1998.1L675.1 2018.3L662.8 1998.1Z" fill="#0000ff" stroke="#0000ff" stroke-width="1.4" stroke-linejoin="miter"/>
<path d="M734.9 1977.8L747.2 1998.0L734.9 2018.2L722.6 1998.0Z" fill="#0000ff" stroke="#0000ff" stroke-width="1.4" stroke-linejoin="miter"/>
<path d="M794.7 1977.7L807.0 1997.9L794.7 2018.1L782.4 1997.9Z" fill="#0000ff" stroke="#0000ff" stroke-width="1.4" stroke-linejoin="miter"/>
<path d="M854.5 1977.6L866.8 1997.8L854.5 2018.0L842.2 1997.8Z" fill="#0000ff" stroke="#0000ff" stroke-width="1.4" stroke-linejoin="miter"/>
<path d="M914.3 1977.5L926.6 1997.7L914.3 2017.9L902.0 1997.7Z" fill="#0000ff" stroke="#0000ff" stroke-width="1.4" stroke-linejoin="miter"/>
<path d="M974.1 1977.4L986.4 1997.6L974.1 2017.8L961.8 1997.6Z" fill="#0000ff" stroke="#0000ff" stroke-width="1.4" stroke-linejoin="miter"/>
<path d="M1033.9 1977.3L1046.2 1997.5L1033.9 2017.7L1021.6 1997.5Z" fill="#0000ff" stroke="#0000ff" stroke-width="1.4" stroke-linejoin="miter"/>
<path d="M1093.7 1977.2L1106.0 1997.4L1093.7 2017.6L1081.4 1997.4Z" fill="#0000ff" stroke="#0000ff" stroke-width="1.4" stroke-linejoin="miter"/>
<path d="M1153.6 1977.1L1165.9 1997.3L1153.6 2017.5L1141.3 1997.3Z" fill="#0000ff" stroke="#0000ff" stroke-width="1.4" stroke-linejoin="miter"/>
<path d="M1213.4 1977.1L1225.7 1997.3L1213.4 2017.5L1201.1 1997.3Z" fill="#0000ff" stroke="#0000ff" stroke-width="1.4" stroke-linejoin="miter"/>
<path d="M1273.2 1977.0L1285.5 1997.2L1273.2 2017.4L1260.9 1997.2Z" fill="#0000ff" stroke="#0000ff" stroke-width="1.4" stroke-linejoin="miter"/>
<path d="M1333.0 1977.0L1345.3 1997.2L1333.0 2017.4L1320.7 1997.2Z" fill="#0000ff" stroke="#0000ff" stroke-width="1.4" stroke-linejoin="miter"/>
<path d="M1392.8 1977.0L1405.1 1997.2L1392.8 2017.4L1380.5 1997.2Z" fill="#0000ff" stroke="#0000ff" stroke-width="1.4" stroke-linejoin="miter"/>
<polyline points="256.4,1944.3 316.2,1944.3 376.0,1944.3 435.8,1944.2 495.6,1944.2 555.5,1944.1 615.3,1944.1 675.1,1944.0 734.9,1943.9 794.7,1943.8 854.5,1943.7 914.3,1943.6 974.1,1943.5 1033.9,1943.4 1093.7,1943.4 1153.6,1943.3 1213.4,1943.3 1273.2,1943.2 1333.0,1943.2 1392.8,1943.2" fill="none" stroke="#ff0000" stroke-width="5.8" stroke-dasharray="5.83 9.62"/>
<circle cx="256.4" cy="1944.3" r="15.0" fill="#ff0000"/>
<circle cx="316.2" cy="1944.3" r="15.0" fill="#ff0000"/>
<circle cx="376.0" cy="1944.3" r="15.0" fill="#ff0000"/>
<circle cx="435.8" cy="1944.2" r="15.0" fill="#ff0000"/>
<circle cx="495.6" cy="1944.2" r="15.0" fill="#ff0000"/>
<circle cx="555.5" cy="1944.1" r="15.0" fill="#ff0000"/>
<circle cx="615.3" cy="1944.1" r="15.0" fill="#ff0000"/>
<circle cx="675.1" cy="1944.0" r="15.0" fill="#ff0000"/>
<circle cx="734.9" cy="1943.9" r="15.0" fill="#ff0000"/>
<circle cx="794.7" cy="1943.8" r="15.0" fill="#ff0000"/>
<circle cx="854.5" cy="1943.7" r="15.0" fill="#ff0000"/>
<circle cx="914.3" cy="1943.6" r="15.0" fill="#ff0000"/>
<circle cx="974.1" cy="1943.5" r="15.0" fill="#ff0000"/>
<circle cx="1033.9" cy="1943.4" r="15.0" fill="#ff0000"/>
<circle cx="1093.7" cy="1943.4" r="15.0" fill="#ff0000"/>
<circle cx="1153.6" cy="1943.3" r="15.0" fill="#ff0000"/>
<circle cx="1213.4" cy="1943.3" r="15.0" fill="#ff0000"/>
<circle cx="1273.2" cy="1943.2" r="15.0" fill="#ff0000"/>
<circle cx="1333.0" cy="1943.2" r="15.0" fill="#ff0000"/>
<circle cx="1392.8" cy="1943.2" r="15.0" fill="#ff0000"/>
<polyline points="256.4,2332.2 316.2,2332.2 376.0,2332.2 435.8,2332.2 495.6,2332.2 555.5,2332.2 615.3,2332.2 675.1,2332.2 734.9,2332.2 794.7,2332.2 854.5,2332.2 914.3,2332.2 974.1,2332.2 1033.9,2332.2 1093.7,2332.2 1153.6,2332.2 1213.4,2332.2 1273.2,2332.2 1333.0,2332.2 1392.8,2332.2" fill="none" stroke="#008000" stroke-width="5.8" stroke-dasharray="37.32 9.33 5.83 9.33"/>
<path d="M242.5 2318.3L270.3 2346.1M242.5 2346.1L270.3 2318.3" stroke="#008000" stroke-width="1.25" fill="none" stroke-linecap="square"/>
<path d="M302.3 2318.3L330.1 2346.1M302.3 2346.1L330.1 2318.3" stroke="#008000" stroke-width="1.25" fill="none" stroke-linecap="square"/>
<path d="M362.1 2318.3L389.9 2346.1M362.1 2346.1L389.9 2318.3" stroke="#008000" stroke-width="1.25" fill="none" stroke-linecap="square"/>
<path d="M421.9 2318.3L449.7 2346.1M421.9 2346.1L449.7 2318.3" stroke="#008000" stroke-width="1.25" fill="none" stroke-linecap="square"/>
<path d="M481.7 2318.3L509.5 2346.1M481.7 2346.1L509.5 2318.3" stroke="#008000" stroke-width="1.25" fill="none" stroke-linecap="square"/>
<path d="M541.6 2318.3L569.4 2346.1M541.6 2346.1L569.4 2318.3" stroke="#008000" stroke-width="1.25" fill="none" stroke-linecap="square"/>
<path d="M601.4 2318.3L629.2 2346.1M601.4 2346.1L629.2 2318.3" stroke="#008000" stroke-width="1.25" fill="none" stroke-linecap="square"/>
<path d="M661.2 2318.3L689.0 2346.1M661.2 2346.1L689.0 2318.3" stroke="#008000" stroke-width="1.25" fill="none" stroke-linecap="square"/>
<path d="M721.0 2318.3L748.8 2346.1M721.0 2346.1L748.8 2318.3" stroke="#008000" stroke-width="1.25" fill="none" stroke-linecap="square"/>
<path d="M780.8 2318.3L808.6 2346.1M780.8 2346.1L808.6 2318.3" stroke="#008000" stroke-width="1.25" fill="none" stroke-linecap="square"/>
<path d="M840.6 2318.3L868.4 2346.1M840.6 2346.1L868.4 2318.3" stroke="#008000" stroke-width="1.25" fill="none" stroke-linecap="square"/>
<path d="M900.4 2318.3L928.2 2346.1M900.4 2346.1L928.2 2318.3" stroke="#008000" stroke-width="1.25" fill="none" stroke-linecap="square"/>
<path d="M960.2 2318.3L988.0 2346.1M960.2 2346.1L988.0 2318.3" stroke="#008000" stroke-width="1.25" fill="none" stroke-linecap="square"/>
<path d="M1020.0 2318.3L1047.8 2346.1M1020.0 2346.1L1047.8 2318.3" stroke="#008000" stroke-width="1.25" fill="none" stroke-linecap="square"/>
<path d="M1079.8 2318.3L1107.6 2346.1M1079.8 2346.1L1107.6 2318.3" stroke="#008000" stroke-width="1.25" fill="none" stroke-linecap="square"/>
<path d="M1139.7 2318.3L1167.5 2346.1M1139.7 2346.1L1167.5 2318.3" stroke="#008000" stroke-width="1.25" fill="none" stroke-linecap="square"/>
<path d="M1199.5 2318.3L1227.3 2346.1M1199.5 2346.1L1227.3 2318.3" stroke="#008000" stroke-width="1.25" fill="none" stroke-linecap="square"/>
<path d="M1259.3 2318.3L1287.1 2346.1M1259.3 2346.1L1287.1 2318.3" stroke="#008000" stroke-width="1.25" fill="none" stroke-linecap="square"/>
<path d="M1319.1 2318.3L1346.9 2346.1M1319.1 2346.1L1346.9 2318.3" stroke="#008000" stroke-width="1.25" fill="none" stroke-linecap="square"/>
<path d="M1378.9 2318.3L1406.7 2346.1M1378.9 2346.1L1406.7 2318.3" stroke="#008000" stroke-width="1.25" fill="none" stroke-linecap="square"/>
</g>
<rect x="199.5" y="1730.5" width="1250.0" height="631.0" fill="none" stroke="#000" stroke-width="1.11"/>
<g stroke="#000" stroke-width="1.11">
<line x1="256.5" y1="2361.5" x2="256.5" y2="2365.9"/>
<line x1="483.5" y1="2361.5" x2="483.5" y2="2365.9"/>
<line x1="710.5" y1="2361.5" x2="710.5" y2="2365.9"/>
<line x1="938.5" y1="2361.5" x2="938.5" y2="2365.9"/>
<line x1="1165.5" y1="2361.5" x2="1165.5" y2="2365.9"/>
<line x1="1392.5" y1="2361.5" x2="1392.5" y2="2365.9"/>
<line x1="195.1" y1="1733.5" x2="199.5" y2="1733.5"/>
<line x1="195.1" y1="1900.5" x2="199.5" y2="1900.5"/>
<line x1="195.1" y1="2068.5" x2="199.5" y2="2068.5"/>
<line x1="195.1" y1="2235.5" x2="199.5" y2="2235.5"/>
</g>
<g style="font-family:'DejaVu Sans','Liberation Sans',sans-serif;font-size:41.67px;letter-spacing:-0.45px" fill="#000">
<text x="255.6" y="2399.8" text-anchor="middle">0.0</text>
<text x="482.9" y="2399.8" text-anchor="middle">0.2</text>
<text x="710.2" y="2399.8" text-anchor="middle">0.4</text>
<text x="937.4" y="2399.8" text-anchor="middle">0.6</text>
<text x="1164.7" y="2399.8" text-anchor="middle">0.8</text>
<text x="1392.0" y="2399.8" text-anchor="middle">1.0</text>
<text x="190.9" y="1748.3" text-anchor="end">0.13495</text>
<text x="190.9" y="1915.7" text-anchor="end">0.13490</text>
<text x="190.9" y="2083.1" text-anchor="end">0.13485</text>
<text x="190.9" y="2250.5" text-anchor="end">0.13480</text>
</g>
<text x="824.6" y="2443.9" text-anchor="middle" style="font-family:'DejaVu Sans','Liberation Sans',sans-serif;font-size:38.9px">x</text>
<g style="font-family:'DejaVu Sans','Liberation Sans',sans-serif;font-size:48.6px">
<text x="746.5" y="1719.6" font-style="italic">t</text>
<text x="776.1" y="1719.6">=</text>
<text x="825.6" y="1719.6" style="letter-spacing:0px">3.0</text>
</g>
<rect x="219.5" y="2087.5" width="189.0" height="252.3" rx="5.0" fill="#fff" fill-opacity="0.8" stroke="#ccc" stroke-opacity="0.8" stroke-width="1.39"/>
<line x1="233.9" y1="2121.3" x2="321.0" y2="2121.3" stroke="#000" stroke-width="5.8"/>
<circle cx="277.2" cy="2121.3" r="7.65" fill="#000"/>
<text x="350.5" y="2134.5" style="font-family:'DejaVu Sans','Liberation Sans',sans-serif;font-size:41.67px"><tspan font-style="italic">z</tspan><tspan dx="1.2" dy="-15.5" font-size="29.17px">2</tspan></text>
<line x1="236.1" y1="2181.8" x2="318.0" y2="2181.8" stroke="#0000ff" stroke-width="5.8" stroke-dasharray="21.58 9.33"/>
<path d="M277.2 2161.6L289.5 2181.8L277.2 2202.0L264.9 2181.8Z" fill="#0000ff" stroke="#0000ff" stroke-width="1.4" stroke-linejoin="miter"/>
<text x="350.5" y="2195.0" style="font-family:'DejaVu Sans','Liberation Sans',sans-serif;font-size:41.67px"><tspan font-style="italic">z</tspan><tspan dx="1.2" dy="-15.5" font-size="29.17px">4</tspan></text>
<line x1="236.1" y1="2241.2" x2="318.0" y2="2241.2" stroke="#ff0000" stroke-width="5.8" stroke-dasharray="5.83 9.62"/>
<circle cx="277.2" cy="2241.2" r="15.0" fill="#ff0000"/>
<text x="350.5" y="2254.4" style="font-family:'DejaVu Sans','Liberation Sans',sans-serif;font-size:41.67px"><tspan font-style="italic">z</tspan><tspan dx="1.2" dy="-15.5" font-size="29.17px">6</tspan></text>
<line x1="236.1" y1="2302.0" x2="318.0" y2="2302.0" stroke="#008000" stroke-width="5.8" stroke-dasharray="37.32 9.33 5.83 9.33"/>
<path d="M263.3 2288.1L291.1 2315.9M263.3 2315.9L291.1 2288.1" stroke="#008000" stroke-width="1.25" fill="none" stroke-linecap="square"/>
<text x="350.5" y="2315.2" style="font-family:'DejaVu Sans','Liberation Sans',sans-serif;font-size:41.67px"><tspan font-style="italic">z</tspan><tspan dx="1.2" dy="-15.5" font-size="29.17px">8</tspan></text>
</svg>
</body></html>
